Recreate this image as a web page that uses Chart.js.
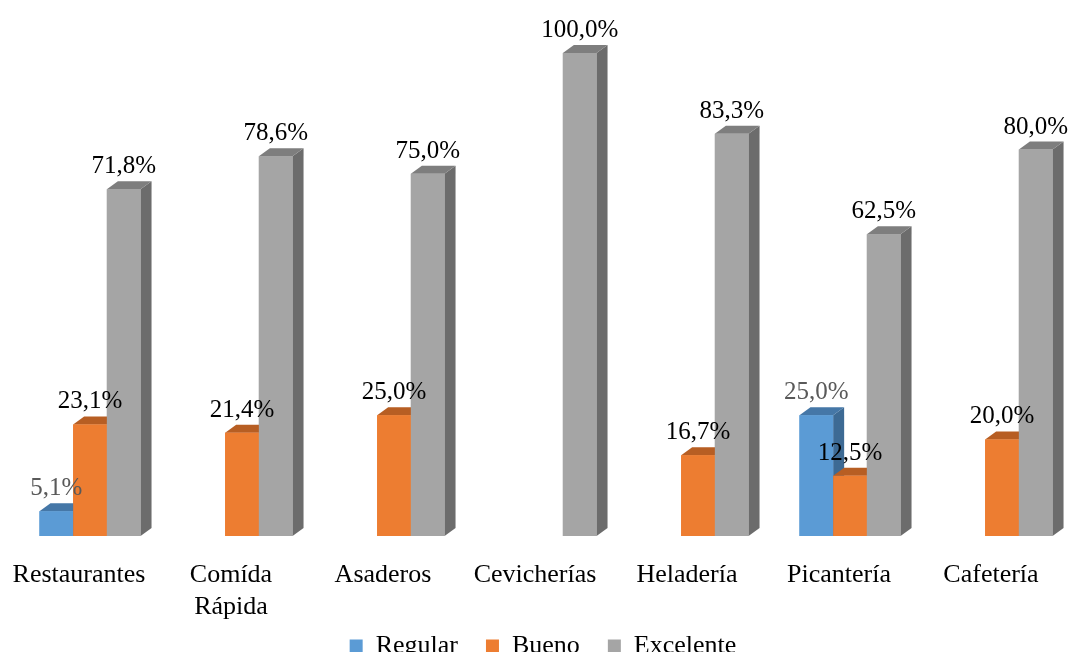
<!DOCTYPE html>
<html>
<head>
<meta charset="utf-8">
<script src="https://cdn.jsdelivr.net/npm/chart.js@4.4.1/dist/chart.umd.min.js"></script>
<style>
  body { margin: 0; background: #fff; }
  #wrap { width: 1069px; height: 652px; overflow: hidden; }
</style>
</head>
<body>
<div id="wrap"><canvas id="myChart" width="1069" height="652"></canvas></div>
<script>
// categories and series (percent)
const categorias = ['Restaurantes', ['Comída', 'Rápida'], 'Asaderos', 'Cevicherías', 'Heladería', 'Picantería', 'Cafetería'];
const regular   = [5.1, null, null, null, null, 25.0, null];
const bueno     = [23.1, 21.4, 25.0, null, 16.7, 12.5, 20.0];
const excelente = [71.8, 78.6, 75.0, 100.0, 83.3, 62.5, 80.0];

const FONT = "'Liberation Serif', 'Times New Roman', serif";
const DX = 11, DY = 8;       // depth of the 3d boxes
const SHIFT = 11;            // boxes sit a bit right of the category label

// front / top / side colours for each series
const estilos = {
    Regular:   { front: '#5B9BD5', top: '#4577A7', side: '#3D6A94', label: '#595959' },
    Bueno:     { front: '#ED7D31', top: '#B75E23', side: '#A85620', label: '#000000' },
    Excelente: { front: '#A5A5A5', top: '#7E7E7E', side: '#6C6C6C', label: '#000000' }
};

function fmt(v) {
    return v.toFixed(1).replace('.', ',') + '%';
}

// redraws every bar as a box (side, top, front) left to right, then the value labels
const bars3d = {
    id: 'bars3d',
    afterLayout(chart) {
        // pull the legend up close under the two-line axis labels
        const lg = chart.legend;
        lg.top -= 17; lg.bottom -= 17;
        lg.left += 8; lg.right += 8;
    },
    beforeDatasetsDraw(chart) {
        chart.ctx.save();
        chart.ctx.translate(SHIFT, 0);
    },
    afterDatasetsDraw(chart) {
        const ctx = chart.ctx;
        chart.data.datasets.forEach((ds, di) => {
            const st = estilos[ds.label];
            chart.getDatasetMeta(di).data.forEach((bar, i) => {
                if (ds.data[i] == null) return;
                const p = bar.getProps(['x', 'y', 'base', 'width'], true);
                const l = p.x - p.width / 2, r = p.x + p.width / 2;
                ctx.fillStyle = st.side;
                ctx.beginPath();
                ctx.moveTo(r, p.y);
                ctx.lineTo(r + DX, p.y - DY);
                ctx.lineTo(r + DX, p.base - DY);
                ctx.lineTo(r, p.base);
                ctx.closePath();
                ctx.fill();
                ctx.fillStyle = st.top;
                ctx.beginPath();
                ctx.moveTo(l, p.y);
                ctx.lineTo(l + DX, p.y - DY);
                ctx.lineTo(r + DX, p.y - DY);
                ctx.lineTo(r, p.y);
                ctx.closePath();
                ctx.fill();
                bar.draw(ctx);
            });
        });

        ctx.font = '25px ' + FONT;
        ctx.textAlign = 'center';
        ctx.textBaseline = 'alphabetic';
        chart.data.datasets.forEach((ds, di) => {
            chart.getDatasetMeta(di).data.forEach((bar, i) => {
                if (ds.data[i] == null) return;
                const p = bar.getProps(['x', 'y'], true);
                ctx.fillStyle = estilos[ds.label].label;
                ctx.fillText(fmt(ds.data[i]), p.x, p.y - 16);
            });
        });
        ctx.restore();
    }
};

const ctx1 = document.getElementById('myChart').getContext('2d');

new Chart(ctx1, {
    type: 'bar',
    data: {
        labels: categorias,
        datasets: [
            { label: 'Regular', data: regular, backgroundColor: estilos.Regular.front },
            { label: 'Bueno', data: bueno, backgroundColor: estilos.Bueno.front },
            { label: 'Excelente', data: excelente, backgroundColor: estilos.Excelente.front }
        ]
    },
    options: {
        responsive: false,
        animation: false,
        layout: {
            padding: { left: 3, right: 2, top: 53, bottom: -34 }
        },
        datasets: {
            bar: { categoryPercentage: 0.665, barPercentage: 1.0 }
        },
        scales: {
            x: {
                grid: { display: false, drawTicks: true, tickLength: 24 },
                border: { display: false },
                afterFit: (scale) => { scale.height = 86; },
                ticks: {
                    color: '#000',
                    padding: 0,
                    maxRotation: 0,
                    autoSkip: false,
                    font: { family: FONT, size: 26, lineHeight: 1.2 }
                }
            },
            y: {
                display: false,
                min: 0,
                max: 100
            }
        },
        plugins: {
            legend: {
                position: 'bottom',
                labels: {
                    boxWidth: 13,
                    boxHeight: 13,
                    padding: 28,
                    color: '#000',
                    font: { family: FONT, size: 26 }
                }
            },
            tooltip: { enabled: false }
        }
    },
    plugins: [bars3d]
});
</script>
</body>
</html>
